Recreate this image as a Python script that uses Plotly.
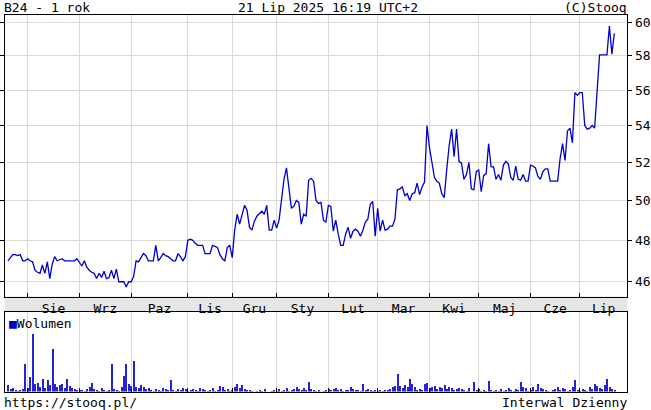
import math
import numpy as np
import plotly.graph_objects as go

# ---------------- data ----------------
month_labels = ["Lip", "Sie", "Wrz", "Paz", "Lis", "Gru", "Sty",
                "Lut", "Mar", "Kwi", "Maj", "Cze", "Lip"]
# trading sessions per month shown (first and last month partial)
sessions_per_month = [8, 21, 21, 23, 18, 18, 21, 20, 21, 20, 21, 20, 15]

prices = [
    47.0, 47.15, 47.3, 47.3, 47.25, 47.3, 47.0, 47.0, 47.1, 47.0,
    46.95, 46.55, 46.45, 46.4, 46.8, 46.4, 46.95, 46.15, 46.85, 47.2,
    47.0, 47.05, 47.1, 47.0, 47.0, 47.0, 47.0, 47.0, 47.1, 46.9,
    46.75, 47.0, 46.7, 46.55, 46.45, 46.4, 46.15, 46.4, 46.2, 46.5,
    46.15, 46.2, 46.55, 46.15, 46.6, 46.0, 46.0, 46.0, 45.75, 46.0,
    46.0, 46.25, 47.0, 46.95, 47.15, 47.35, 47.25, 47.0, 47.0, 47.0,
    47.75, 47.0, 47.15, 47.35, 47.25, 47.2, 47.1, 47.0, 47.0, 47.35,
    47.2, 47.0, 47.2, 48.0, 48.05, 48.0, 47.85, 47.75, 47.75, 47.75,
    47.35, 47.35, 47.35, 47.75, 47.7, 47.65, 47.3, 47.1, 47.0, 47.65,
    47.75, 47.15, 48.5, 49.3, 48.8, 49.3, 49.75, 49.5, 48.65, 48.5,
    48.95, 49.2, 49.35, 49.45, 49.3, 49.75, 48.5, 48.5, 49.0, 48.6,
    49.0, 50.2, 51.1, 51.7, 50.5, 49.6, 49.7, 50.0, 49.9, 48.8,
    49.3, 49.2, 51.05, 51.15, 51.0, 50.0, 49.85, 49.9, 49.0, 48.9,
    49.75, 49.7, 48.45, 49.0, 48.3, 47.75, 47.75, 48.3, 48.65, 48.1,
    48.45, 48.55, 48.45, 48.2, 48.5, 48.9, 49.05, 49.8, 49.95, 48.2,
    49.6, 48.45, 49.0, 48.5, 48.55, 48.7, 48.7, 49.05, 50.55, 50.6,
    50.7, 50.25, 50.35, 50.0, 50.35, 50.4, 50.9, 50.3, 50.7, 50.95,
    54.0, 52.8, 52.0, 51.2, 51.0, 50.9, 50.35, 50.15, 51.6, 52.9,
    53.8, 52.3, 53.8, 52.05, 51.95, 51.1, 51.35, 52.0, 50.6, 50.55,
    51.5, 51.6, 50.45, 51.3, 51.4, 53.0, 51.75, 51.75, 51.1, 51.35,
    51.05, 51.85, 52.05, 51.9, 51.2, 51.05, 51.8, 51.1, 51.05, 51.35,
    51.0, 51.0, 51.85, 51.8, 51.7, 51.25, 51.1, 51.5, 51.65, 51.65,
    51.0, 51.0, 51.0, 51.0, 52.2, 53.0, 52.1, 53.7, 53.85, 53.05,
    55.85, 55.7, 55.85, 55.85, 54.0, 53.8, 53.85, 54.0, 53.85, 56.0,
    58.05, 58.05, 58.05, 58.05, 59.8, 58.1, 59.35,
]

volume = [
    7, 3, 4, 2, 1, 2, 3, 28, 4, 15,
    58, 8, 9, 5, 13, 4, 12, 7, 43, 8,
    5, 7, 8, 4, 13, 6, 4, 3, 2, 2,
    2, 1, 3, 5, 9, 3, 2, 1, 4, 2,
    1, 2, 28, 3, 2, 1, 5, 16, 28, 8,
    6, 31, 5, 4, 7, 5, 3, 4, 2, 1,
    3, 2, 1, 4, 3, 2, 12, 2, 1, 3,
    2, 4, 3, 1, 2, 3, 2, 1, 4, 3,
    2, 1, 2, 4, 1, 2, 6, 5, 2, 3,
    1, 2, 5, 8, 4, 7, 3, 2, 2, 1,
    0, 1, 2, 1, 3, 0, 0, 1, 2, 1,
    3, 1, 2, 4, 1, 2, 3, 5, 3, 2,
    4, 2, 10, 3, 2, 1, 2, 0, 1, 2,
    3, 2, 3, 4, 2, 3, 1, 2, 2, 5,
    3, 2, 2, 1, 8, 2, 3, 2, 1, 2,
    1, 2, 1, 2, 2, 3, 5, 6, 18, 6,
    4, 7, 5, 13, 8, 5, 2, 3, 2, 8,
    9, 4, 5, 6, 3, 5, 4, 7, 3, 5,
    4, 2, 3, 4, 3, 2, 1, 4, 0, 10,
    2, 3, 1, 2, 1, 11, 2, 1, 2, 1,
    3, 1, 2, 4, 2, 1, 3, 2, 10, 5,
    4, 1, 2, 5, 2, 8, 4, 3, 2, 1,
    0, 2, 3, 5, 2, 4, 3, 1, 2, 5,
    12, 2, 1, 3, 2, 1, 5, 3, 8, 6,
    4, 3, 7, 13, 5, 3, 2,
]

price_ticks = [46, 48, 50, 52, 54, 56, 58, 60]

# ---------------- layout helpers ----------------
W, H = 651, 410
FONT = "DejaVu Sans Mono"
x_idx = list(range(len(prices)))
x_range = [-1.3, 251.3]

starts = list(np.cumsum(sessions_per_month)[:-1])       # month boundaries
ends = starts[1:] + [x_range[1]]
centers = [(a + b) / 2 for a, b in zip(starts, ends)]
labels = month_labels[1:]

def py(px):  # pixel from top -> paper fraction
    return 1 - px / H

xdom = [2.7 / W, 628.3 / W]
price_dom = [py(296.5), py(15)]
vol_dom = [py(391.5), py(311.5)]

GRID = "#d9d9d9"
BLUE = "#0000cc"

fig = go.Figure()
fig.add_trace(go.Scatter(x=x_idx, y=prices, mode="lines",
                         line=dict(color=BLUE, width=1.3),
                         xaxis="x", yaxis="y", showlegend=False,
                         hoverinfo="skip"))
fig.add_trace(go.Bar(x=x_idx, y=volume, width=0.45,
                     marker=dict(color="#2424d4", line=dict(width=0)),
                     xaxis="x2", yaxis="y2", showlegend=False,
                     hoverinfo="skip"))

common_x = dict(range=x_range, domain=xdom, showline=True, linecolor="black",
                linewidth=1, mirror=True, zeroline=False, showgrid=False,
                tickmode="array", tickvals=centers, ticktext=labels,
                ticks="", fixedrange=True,
                minor=dict(tickmode="array", tickvals=starts, showgrid=True,
                           gridcolor=GRID, gridwidth=1, ticks="inside",
                           ticklen=4, tickcolor="black"))

fig.update_layout(
    width=W, height=H, autosize=False,
    margin=dict(l=0, r=0, t=0, b=0),
    paper_bgcolor="white", plot_bgcolor="white",
    font=dict(family=FONT, size=13, color="black"),
    bargap=0,
    xaxis=dict(**common_x, anchor="y", showticklabels=True,
               tickfont=dict(family=FONT, size=13, color="black")),
    xaxis2=dict(**common_x, anchor="y2", matches="x", showticklabels=False),
    yaxis=dict(type="log", domain=price_dom, anchor="x", side="right",
               range=[math.log10(45.31), math.log10(60.48)],
               tickmode="array", tickvals=price_ticks,
               ticktext=[str(v) for v in price_ticks],
               showgrid=True, gridcolor=GRID, gridwidth=1,
               showline=True, linecolor="black", linewidth=1, mirror="ticks",
               ticks="outside", ticklen=4, tickcolor="black",
               zeroline=False, fixedrange=True,
               tickfont=dict(family=FONT, size=13, color="black")),
    yaxis2=dict(domain=vol_dom, anchor="x2", range=[0, 80],
                showgrid=False, showticklabels=False, ticks="",
                showline=True, linecolor="black", linewidth=1, mirror=True,
                zeroline=False, fixedrange=True),
    shapes=[dict(type="rect", xref="paper", yref="paper",
                 x0=xdom[0], x1=xdom[1], y0=price_dom[0], y1=vol_dom[1],
                 fillcolor="#e6e6e6", line=dict(width=0), layer="below")],
    annotations=[
        dict(text="B24 - 1 rok", x=0, y=py(7), xref="paper", yref="paper",
             xanchor="left", yanchor="middle", showarrow=False),
        dict(text="21 Lip 2025 16:19 UTC+2", x=328 / W, y=py(7),
             xref="paper", yref="paper", xanchor="center", yanchor="middle",
             showarrow=False),
        dict(text="(C)Stooq", x=630 / W, y=py(7), xref="paper", yref="paper",
             xanchor="right", yanchor="middle", showarrow=False),
        dict(text="<span style='color:#0000cc'>■</span>Wolumen",
             x=5 / W, y=py(323), xref="paper", yref="paper",
             xanchor="left", yanchor="middle", showarrow=False),
        dict(text="https://stooq.pl/", x=0, y=py(402), xref="paper",
             yref="paper", xanchor="left", yanchor="middle", showarrow=False),
        dict(text="Interwal Dzienny", x=630 / W, y=py(402), xref="paper",
             yref="paper", xanchor="right", yanchor="middle", showarrow=False),
    ],
)

fig.write_html("out.html", config={"displayModeBar": False},
               post_script="document.body.style.margin='0';"
                           "document.body.style.overflow='hidden';")
